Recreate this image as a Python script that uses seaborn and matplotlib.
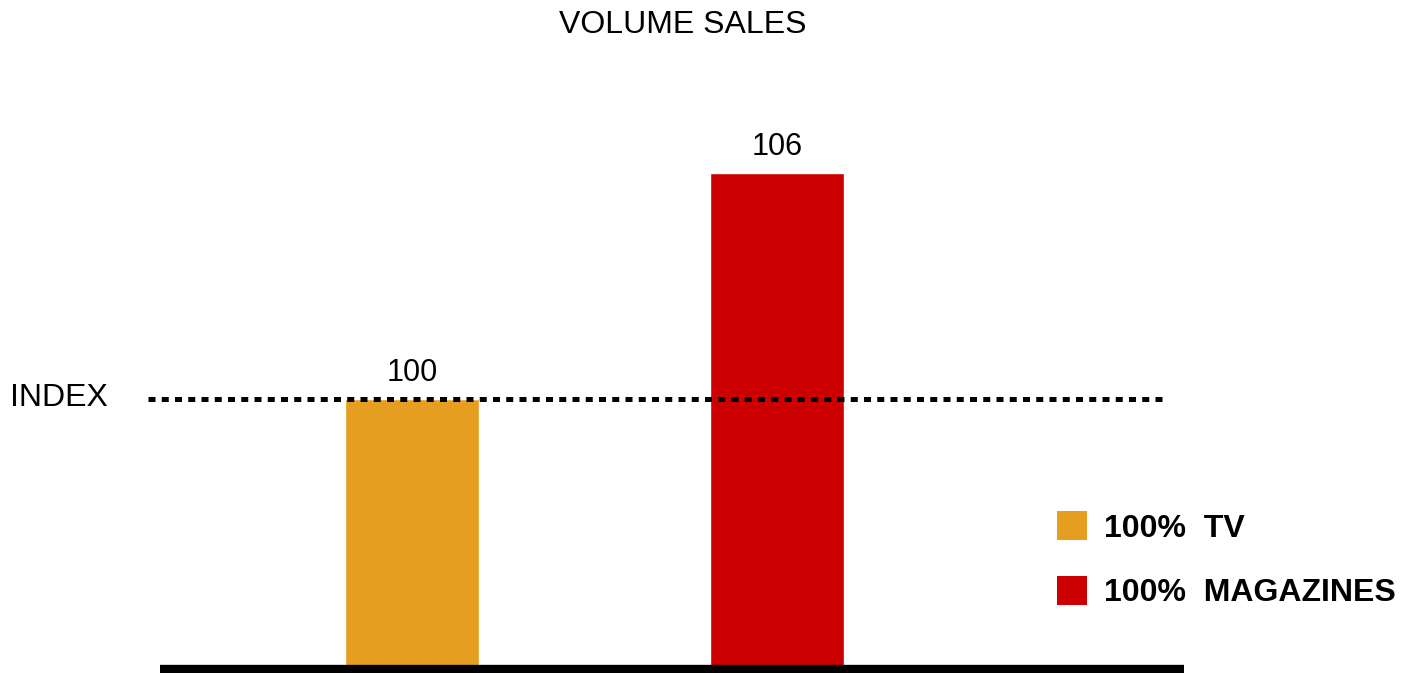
import pandas as pd
import seaborn as sns
import matplotlib.pyplot as plt
from matplotlib.patches import Patch

# data
categories = ['100%  TV', '100%  MAGAZINES']
values = [100, 106]
colors = ['#E59E1F', '#CC0000']
index_level = 100

df = pd.DataFrame({'Media': categories, 'Sales': values})

sns.set_style('white')
plt.rcParams['font.family'] = ['Liberation Sans', 'DejaVu Sans']
plt.rcParams['text.color'] = 'black'

fig = plt.figure(figsize=(14.04, 6.73), dpi=100)
ax = fig.add_axes([160 / 1404, 4 / 673, 1024 / 1404, 569 / 673])

sns.barplot(
    data=df,
    x='Media',
    y='Sales',
    hue='Media',
    palette=dict(zip(categories, colors)),
    saturation=1,
    width=0.367,
    legend=False,
    ax=ax,
)

ax.set_xlim(-0.69, 2.115)
ax.set_ylim(92.83, 107.94)

# value labels
for c in ax.containers:
    ax.bar_label(c, fmt='%d', padding=8, fontsize=22, color='black')

# dotted index line
ax.hlines(index_level, -0.723, 2.072, colors='black', linewidth=3.6,
          linestyles=(0, (1.4, 1.25)), clip_on=False, zorder=5)
fig.text(10 / 1404, 1 - 398 / 673, 'INDEX', fontsize=23, va='center', ha='left')

# axes cosmetics
sns.despine(ax=ax, left=True)
ax.spines['bottom'].set_linewidth(6)
ax.spines['bottom'].set_color('black')
ax.spines['bottom'].set_capstyle('butt')
ax.set_xticks([])
ax.set_yticks([])
ax.set_xlabel('')
ax.set_ylabel('')

fig.text(0.486, 1 - 25 / 673, 'VOLUME SALES', fontsize=23, ha='center', va='center')

handles = [Patch(facecolor=col, edgecolor='none') for col in colors]
leg = fig.legend(
    handles, categories,
    loc='upper left',
    bbox_to_anchor=(1057 / 1404, 1 - 511 / 673),
    frameon=False,
    borderpad=0,
    borderaxespad=0,
    handlelength=0.94,
    handleheight=1.04,
    handletextpad=0.53,
    labelspacing=1.0,
    prop={'size': 23, 'weight': 'bold'},
)

plt.savefig('out.png', dpi=100)
